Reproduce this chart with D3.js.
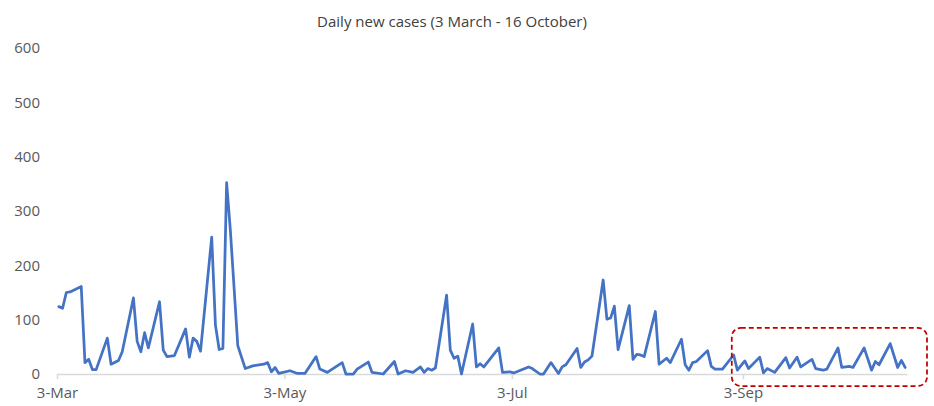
<!DOCTYPE html>
<html>
<head>
<meta charset="utf-8">
<script src="https://cdn.jsdelivr.net/npm/d3@7"></script>
<style>
  body { margin: 0; background: #ffffff; }
  svg { display: block; font-family: "Open Sans", sans-serif; }
</style>
</head>
<body>
<svg id="chart" width="934" height="406"></svg>
<script>
// Daily new cases, 3 March - 16 October 2020 (days without a report are skipped)
const chartTitle = "Daily new cases (3 March - 16 October)";

const reportDates = [
  "2020-03-03","2020-03-04","2020-03-05","2020-03-06","2020-03-09","2020-03-10","2020-03-11","2020-03-12",
  "2020-03-13","2020-03-16","2020-03-17","2020-03-19","2020-03-20","2020-03-23","2020-03-24","2020-03-25",
  "2020-03-26","2020-03-27","2020-03-30","2020-03-31","2020-04-01","2020-04-03","2020-04-06","2020-04-07",
  "2020-04-08","2020-04-09","2020-04-10","2020-04-13","2020-04-14","2020-04-15","2020-04-16","2020-04-17",
  "2020-04-18","2020-04-20","2020-04-22","2020-04-24","2020-04-27","2020-04-28","2020-04-29","2020-04-30",
  "2020-05-01","2020-05-04","2020-05-06","2020-05-08","2020-05-11","2020-05-12","2020-05-14","2020-05-18",
  "2020-05-19","2020-05-21","2020-05-22","2020-05-25","2020-05-26","2020-05-29","2020-06-01","2020-06-02",
  "2020-06-04","2020-06-06","2020-06-08","2020-06-09","2020-06-10","2020-06-11","2020-06-12","2020-06-15",
  "2020-06-16","2020-06-17","2020-06-18","2020-06-19","2020-06-22","2020-06-23","2020-06-24","2020-06-25",
  "2020-06-29","2020-06-30","2020-07-02","2020-07-03","2020-07-07","2020-07-08","2020-07-10","2020-07-11",
  "2020-07-13","2020-07-15","2020-07-16","2020-07-17","2020-07-20","2020-07-21","2020-07-22","2020-07-23",
  "2020-07-24","2020-07-27","2020-07-28","2020-07-29","2020-07-30","2020-07-31","2020-08-03","2020-08-04",
  "2020-08-05","2020-08-06","2020-08-07","2020-08-10","2020-08-11","2020-08-13","2020-08-14","2020-08-17",
  "2020-08-18","2020-08-19","2020-08-20","2020-08-21","2020-08-24","2020-08-25","2020-08-26","2020-08-28",
  "2020-08-31","2020-09-01","2020-09-03","2020-09-04","2020-09-07","2020-09-08","2020-09-09","2020-09-11",
  "2020-09-14","2020-09-15","2020-09-17","2020-09-18","2020-09-21","2020-09-22","2020-09-24","2020-09-25",
  "2020-09-28","2020-09-29","2020-10-01","2020-10-02","2020-10-05","2020-10-07","2020-10-08","2020-10-09",
  "2020-10-12","2020-10-14","2020-10-15","2020-10-16"
];

const newCases = [
  124,121,150,151,161,21,27,8,
  8,66,18,25,41,140,60,41,
  76,48,133,44,32,34,83,31,
  66,60,42,252,90,45,47,352,
  265,52,10,15,18,21,4,12,
  1,6,1,1,32,9,3,21,
  0,0,9,22,3,0,23,0,
  6,3,13,3,10,7,11,145,
  44,29,33,0,92,13,19,13,
  48,3,4,2,13,10,0,0,
  21,1,13,17,47,12,22,26,
  33,173,101,103,125,45,126,27,
  36,35,32,115,18,29,21,64,
  17,7,21,23,43,14,9,9,
  35,7,24,10,31,2,10,3,
  30,11,31,13,27,10,7,9,
  48,12,14,12,48,7,23,17,
  56,12,25,12
];

const yTickValues = [0, 100, 200, 300, 400, 500, 600];
const xTickDates = ["2020-03-03", "2020-05-03", "2020-07-03", "2020-09-03"];
const xTickLabels = ["3-Mar", "3-May", "3-Jul", "3-Sep"];

// Period picked out with a dashed frame (from 31 August onwards)
const highlightFrom = "2020-08-31";
const highlightTopValue = 85;

const parse = d3.utcParse("%Y-%m-%d");
const DAY = 24 * 3600 * 1000;

const svg = d3.select("#chart");

const plot = { left: 57, right: 907, top: 48, bottom: 374 };

// Each day is a band on the date axis; values sit in the middle of their day
const x = d3.scaleUtc()
  .domain([parse("2020-03-03"), new Date(parse("2020-10-16").getTime() + DAY)])
  .range([plot.left, plot.right]);

const y = d3.scaleLinear()
  .domain([0, 600])
  .range([plot.bottom, plot.top]);

const series = reportDates.map((d, i) => ({
  date: new Date(parse(d).getTime() + DAY / 2),
  value: newCases[i]
}));

// Title
svg.append("text")
  .attr("x", 452)
  .attr("y", 27)
  .attr("text-anchor", "middle")
  .attr("font-size", 15)
  .attr("fill", "#404040")
  .text(chartTitle);

// Value axis: labels only
const yAxis = svg.append("g")
  .attr("transform", `translate(${plot.left - 17},0)`)
  .call(d3.axisLeft(y).tickValues(yTickValues).tickSize(0).tickPadding(0));
yAxis.select(".domain").remove();
yAxis.selectAll("text")
  .attr("font-family", "Open Sans, sans-serif")
  .attr("font-size", 15)
  .attr("fill", "#595959");

// Date axis
const xAxis = svg.append("g")
  .attr("transform", `translate(0,${plot.bottom})`)
  .call(d3.axisBottom(x)
    .tickValues(xTickDates.map(parse))
    .tickFormat((d, i) => xTickLabels[i])
    .tickSizeInner(5)
    .tickSizeOuter(0)
    .tickPadding(8));
xAxis.select(".domain")
  .attr("stroke", "#d9d9d9")
  .attr("stroke-width", 1.5);
xAxis.selectAll(".tick line")
  .attr("stroke", "#d9d9d9")
  .attr("stroke-width", 1.5);
xAxis.selectAll("text")
  .attr("font-family", "Open Sans, sans-serif")
  .attr("font-size", 15)
  .attr("fill", "#595959");

// Case line
const line = d3.line()
  .x(d => x(d.date))
  .y(d => y(d.value));

svg.append("path")
  .datum(series)
  .attr("fill", "none")
  .attr("stroke", "#4472c4")
  .attr("stroke-width", 2.75)
  .attr("stroke-linejoin", "round")
  .attr("stroke-linecap", "round")
  .attr("d", line);

// Dashed frame around the latest weeks
const frameLeft = x(parse(highlightFrom));
const frameTop = y(highlightTopValue);
svg.append("rect")
  .attr("x", frameLeft)
  .attr("y", frameTop)
  .attr("width", 927 - frameLeft)
  .attr("height", 386 - frameTop)
  .attr("rx", 9)
  .attr("ry", 9)
  .attr("fill", "none")
  .attr("stroke", "#c00000")
  .attr("stroke-width", 1.75)
  .attr("stroke-dasharray", "5,3");
</script>
</body>
</html>
